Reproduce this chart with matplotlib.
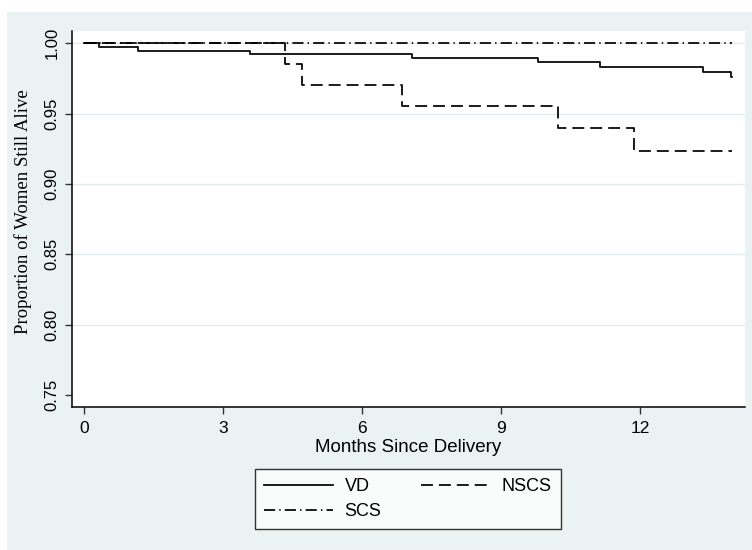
import matplotlib
matplotlib.use("Agg")
import matplotlib.pyplot as plt
from matplotlib.patches import Rectangle

# ---- data ----
vd_t = [0.0, 0.32, 1.17, 3.58, 7.07, 9.81, 11.14, 13.36, 13.96, 14.0]
vd_s = [1.0, 0.9976, 0.9948, 0.9922, 0.9893, 0.9867, 0.9832, 0.9799, 0.9759, 0.9759]

nscs_t = [0.0, 4.33, 4.70, 6.86, 10.24, 11.87, 14.0]
nscs_s = [1.0, 0.9853, 0.9704, 0.9553, 0.9400, 0.9235, 0.9235]

scs_t = [0.0, 14.0]
scs_s = [1.0, 1.0]

x_ticks = [0, 3, 6, 9, 12]
y_ticks = [0.75, 0.80, 0.85, 0.90, 0.95, 1.00]
y_tick_labels = ["0.75", "0.80", "0.85", "0.90", "0.95", "1.00"]
grid_levels = [0.80, 0.85, 0.90, 0.95, 1.00]

series_labels = ["VD", "NSCS", "SCS"]

# ---- styling ----
plt.rcParams['font.family'] = ['Liberation Sans', 'DejaVu Sans']
plt.rcParams['lines.scale_dashes'] = False

W, H = 752, 550
fig = plt.figure(figsize=(W / 100, H / 100), dpi=100)
fig.patch.set_facecolor("white")
bg = Rectangle((7 / W, 0), 1 - 7 / W, 1 - 12 / H, transform=fig.transFigure,
               facecolor="#EAF2F3", edgecolor="none", zorder=-1)
fig.add_artist(bg)

ax_l, ax_r, ax_t, ax_b = 72, 745, 31, 407
ax = fig.add_axes([ax_l / W, 1 - ax_b / H, (ax_r - ax_l) / W, (ax_b - ax_t) / H])
ax.set_facecolor("white")

for g in grid_levels:
    ax.axhline(g, color="#E3ECEE", lw=1.0, zorder=1)

lw = 1.25
l_vd, = ax.plot(vd_t, vd_s, drawstyle="steps-post", color="black", lw=lw,
                label=series_labels[0], zorder=3)
l_nscs, = ax.plot(nscs_t, nscs_s, drawstyle="steps-post", color="black", lw=lw,
                  linestyle=(0, (8.6, 4.3)), label=series_labels[1], zorder=3)
l_scs, = ax.plot(scs_t, scs_s, drawstyle="steps-post", color="black", lw=lw,
                 linestyle=(0, (8.0, 3.0, 1.0, 3.0)), label=series_labels[2], zorder=3)

ax.set_xlim(-0.26, 14.27)
ax.set_ylim(0.7415, 1.0087)

for s in ["top", "right"]:
    ax.spines[s].set_visible(False)
for s in ["left", "bottom"]:
    ax.spines[s].set_color("black")
    ax.spines[s].set_linewidth(1.1)

ax.set_xticks(x_ticks)
ax.set_xticklabels([str(v) for v in x_ticks], fontsize=12.5)
ax.set_yticks(y_ticks)
ax.set_yticklabels(y_tick_labels, fontsize=12, rotation=90, va="center")
ax.tick_params(axis="both", length=5, width=1.0, color="#333333")
ax.tick_params(axis="x", pad=5)
ax.tick_params(axis="y", pad=4)

ax.set_xlabel("Months Since Delivery", fontsize=13.5)
ax.xaxis.set_label_coords((408 - ax_l) / (ax_r - ax_l), (ax_b - 439) / (ax_b - ax_t))

fig.text(23 / W, 1 - 212 / H, "Proportion of Women Still Alive",
         rotation=90, ha="center", va="center", fontsize=13.5,
         family=["Liberation Serif", "DejaVu Serif"])

leg = fig.legend([l_vd, l_scs, l_nscs], [series_labels[0], series_labels[2], series_labels[1]],
                 ncol=2, loc="center", bbox_to_anchor=(408 / W, 1 - 499 / H),
                 bbox_transform=fig.transFigure, fontsize=13, frameon=True,
                 fancybox=False, handlelength=3.8, handletextpad=0.65,
                 columnspacing=2.2, labelspacing=0.45, borderpad=0.5)
leg.get_frame().set_edgecolor("black")
leg.get_frame().set_linewidth(1.0)
leg.get_frame().set_facecolor("white")

fig.savefig("out.png", dpi=100)
